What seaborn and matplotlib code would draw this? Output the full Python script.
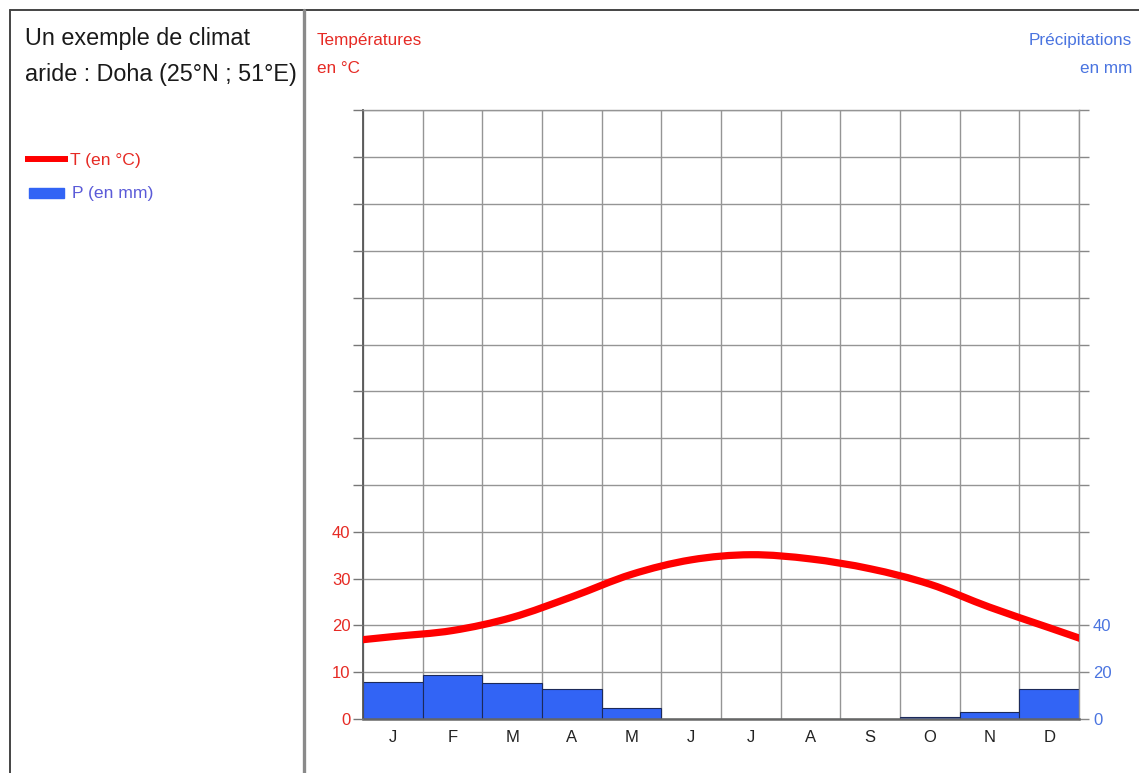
import matplotlib
matplotlib.use('Agg')
import matplotlib.pyplot as plt
import seaborn as sns
import numpy as np
from matplotlib.path import Path
from matplotlib.patches import PathPatch, Rectangle
from matplotlib.lines import Line2D

# Doha climate data
month_labels = ['J', 'F', 'M', 'A', 'M', 'J', 'J', 'A', 'S', 'O', 'N', 'D']
temperature = [17.6, 18.9, 21.7, 26.1, 30.9, 34.0, 35.1, 34.2, 32.1, 28.8, 23.9, 19.5]
precipitation = [16.0, 19.0, 15.4, 13.0, 4.8, 0.0, 0.0, 0.0, 0.0, 0.9, 3.1, 12.9]

temp_ticks = list(range(0, 140, 10))
temp_labels = ['0', '10', '20', '30', '40']
precip_ticks = list(range(0, 280, 20))
precip_labels = ['0', '20', '40']

RED = '#ff0000'
RED_TXT = '#e62a24'
BLUE = '#3264f5'
BLUE_TXT = '#4a74e0'
GRID = '#959595'

sns.set_theme(style='white')
plt.rcParams['font.family'] = ['Liberation Sans', 'DejaVu Sans']

W, H = 1139, 773
fig = plt.figure(figsize=(W / 100, H / 100), dpi=100)
fig.patch.set_facecolor('white')

def px(x, y):
    return x / W, 1 - y / H

# main axes carries precipitation (bars), twin carries temperature (curve)
left, right, top, bottom = 363, 1079, 110.5, 719
ax = fig.add_axes([left / W, 1 - bottom / H, (right - left) / W, (bottom - top) / H])
sns.barplot(x=np.arange(12), y=precipitation, ax=ax, color=BLUE, width=1.0,
            edgecolor='#1c2a5a', linewidth=0.8, saturation=1)
ax.set_xlim(-0.5, 11.5)
ax.set_ylim(0, 260)
ax.set_xlabel('')
ax.set_ylabel('')

tw = ax.twinx()

ax.set_xticks(np.arange(12))
ax.set_xticklabels(month_labels, fontsize=12, color='#222222')
ax.set_xticks(np.arange(-0.5, 12, 1), minor=True)
ax.tick_params(axis='x', which='major', length=0, pad=8)
ax.tick_params(axis='x', which='minor', length=7, width=1, color='#888888', direction='out')
ax.grid(True, which='minor', axis='x', color=GRID, lw=1)

ax.yaxis.tick_right()
ax.set_yticks(precip_ticks)
ax.set_yticklabels(precip_labels + [''] * (len(precip_ticks) - len(precip_labels)),
                   fontsize=12, color=BLUE_TXT)
ax.tick_params(axis='y', length=7, width=1, color='#888888', direction='out', pad=3)
ax.grid(True, which='major', axis='y', color=GRID, lw=1)
ax.set_axisbelow(True)

for side in ['top', 'right']:
    ax.spines[side].set_color(GRID)
    ax.spines[side].set_linewidth(1)
ax.spines['left'].set_color('#555555')
ax.spines['left'].set_linewidth(1.3)
ax.spines['bottom'].set_color('#666666')
ax.spines['bottom'].set_linewidth(1.8)

tw.yaxis.tick_left()
tw.set_ylim(0, 130)
tw.set_yticks(temp_ticks)
tw.set_yticklabels(temp_labels + [''] * (len(temp_ticks) - len(temp_labels)),
                   fontsize=12, color=RED_TXT)
tw.tick_params(axis='y', length=7, width=1, color='#777777', direction='out', pad=2)
for s in tw.spines.values():
    s.set_visible(False)

# smooth curve through monthly means (cubic Bezier with Catmull-Rom control points),
# ends continued by linear extrapolation so the curve reaches the frame edges
xs = [-2, -1] + list(range(12)) + [12, 13]
t0, t1 = temperature[0], temperature[1]
tn, tm = temperature[-1], temperature[-2]
ys = [3 * t0 - 2 * t1, 2 * t0 - t1] + temperature + [2 * tn - tm, 3 * tn - 2 * tm]
verts = [(xs[1], ys[1])]
codes = [Path.MOVETO]
for i in range(1, len(xs) - 2):
    p0 = np.array([xs[i - 1], ys[i - 1]])
    p1 = np.array([xs[i], ys[i]])
    p2 = np.array([xs[i + 1], ys[i + 1]])
    p3 = np.array([xs[i + 2], ys[i + 2]])
    c1 = p1 + (p2 - p0) / 6
    c2 = p2 - (p3 - p1) / 6
    verts += [tuple(c1), tuple(c2), tuple(p2)]
    codes += [Path.CURVE4] * 3
curve = PathPatch(Path(verts, codes), fill=False, edgecolor=RED, lw=5.2,
                  capstyle='butt', transform=tw.transData)
tw.add_patch(curve)
curve.set_clip_box(tw.bbox)

# left panel texts and legend
fig.text(*px(25, 45.5), 'Un exemple de climat', fontsize=16.8, color='#1a1a1a', va='baseline')
fig.text(*px(25, 80.5), 'aride : Doha (25°N ; 51°E)', fontsize=16.8, color='#1a1a1a', va='baseline')

fig.add_artist(Line2D([25 / W, 68 / W], [1 - 158.5 / H] * 2, color=RED, lw=4.3,
                      solid_capstyle='butt'))
fig.text(*px(70, 165), 'T (en °C)', fontsize=12.6, color=RED_TXT, va='baseline')
fig.add_artist(Rectangle(px(29, 197.5), 35 / W, 10 / H, color=BLUE, transform=fig.transFigure))
fig.text(*px(72, 198), 'P (en mm)', fontsize=12.6, color='#5a5ad8', va='baseline')

fig.text(*px(317, 45), 'Températures', fontsize=12.3, color=RED_TXT, va='baseline')
fig.text(*px(317, 73), 'en °C', fontsize=12.3, color=RED_TXT, va='baseline')
fig.text(*px(1132, 45), 'Précipitations', fontsize=12.3, color=BLUE_TXT, va='baseline', ha='right')
fig.text(*px(1132, 73), 'en mm', fontsize=12.3, color=BLUE_TXT, va='baseline', ha='right')

# frame lines
fig.add_artist(Line2D([10 / W, 1], [1 - 10 / H] * 2, color='#444444', lw=1.4))
fig.add_artist(Line2D([10 / W] * 2, [1 - 10 / H, 0], color='#444444', lw=1.4))
fig.add_artist(Line2D([304 / W] * 2, [1 - 10 / H, 0], color='#8a8a8a', lw=2.4))

fig.savefig('out.png', dpi=100)
